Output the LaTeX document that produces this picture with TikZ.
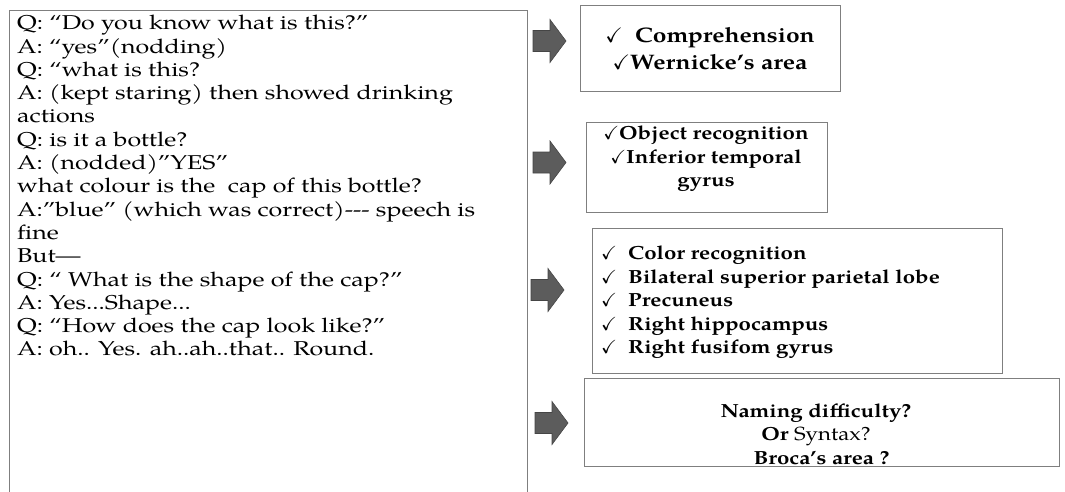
\documentclass[tikz,border=0pt]{standalone}
\usepackage{fontspec}
\setmainfont{TeX Gyre Pagella}
\newfontfamily\talkfont[FakeStretch=1.25]{TeX Gyre Pagella}
\newfontfamily\tagfont[FakeStretch=1.17]{TeX Gyre Pagella}
\usepackage{amssymb}
\definecolor{boxline}{HTML}{7F7F7F}
\definecolor{arrowfill}{HTML}{5C5C5C}
\definecolor{arrowedge}{HTML}{454545}
\newcommand{\tick}{$\checkmark$}
\tikzset{
  panel/.style={draw=boxline, line width=1.3pt, rectangle, inner sep=0pt, anchor=north west},
  talk/.style={anchor=north west, align=left, inner sep=0pt, font=\talkfont\fontsize{20}{23.3}\selectfont},
  tag/.style={inner sep=0pt, align=center, font=\tagfont\bfseries\fontsize{19}{23.5}\selectfont},
  blockarrow/.pic={
    \filldraw[fill=arrowfill, draw=arrowedge, line width=0.6pt]
      (0,-10.5) -- (17,-10.5) -- (17,-21.5) -- (33,0) -- (17,21.5) -- (17,10.5) -- (0,10.5) -- cycle;
  }
}
\begin{document}
\begin{tikzpicture}[x=1pt, y=-1pt]
  \useasboundingbox (0,0) rectangle (1065,492);
  \clip (0,0) rectangle (1065,492);

  % dialogue panel, open at the bottom edge
  \node[panel, minimum width=518pt, minimum height=500pt] (talkbox) at (9,10) {};
  \node[talk] (dialogue) at (17,15) {%
    Q: “Do you know what is this?”\\
    A: “yes”(nodding)\\
    Q: “what is this?\\
    A: (kept staring) then showed drinking\\
    actions\\
    Q: is it a bottle?\\
    A: (nodded)”YES”\\
    what colour is the\ \ cap of this bottle?\\
    A:”blue” (which was correct)-{}-{}- speech is\\
    fine\\
    But—\\
    Q: “ What is the shape of the cap?”\\
    A: Yes...Shape...\\
    Q: “How does the cap look like?”\\
    A: oh.. Yes. ah..ah..that.. Round.};

  % findings boxes
  \node[panel, minimum width=260pt, minimum height=86pt] (b1) at (580,5) {};
  \node[panel, minimum width=241pt, minimum height=90pt] (b2) at (586,122) {};
  \node[panel, minimum width=410pt, minimum height=145pt] (b3) at (592,228) {};
  \node[panel, minimum width=475pt, minimum height=88pt] (b4) at (584,378) {};

  \node[tag, font=\tagfont\bfseries\fontsize{21}{27}\selectfont] (t1) at (710,48.5)
    {\tick\ \ Comprehension\\ \tick Wernicke’s area};
  \node[tag] (t2) at (706,159)
    {\tick Object recognition\\ \tick Inferior temporal\\ gyrus};
  \node[tag, align=left, anchor=west] (t3) at (601,302.5)
    {\makebox[27pt][l]{\tick}Color recognition\\
     \makebox[27pt][l]{\tick}Bilateral superior parietal lobe\\
     \makebox[27pt][l]{\tick}Precuneus\\
     \makebox[27pt][l]{\tick}Right hippocampus\\
     \makebox[27pt][l]{\tick}Right fusifom gyrus};
  \node[tag] (t4) at (816,434)
    {Naming difficulty?\\ Or {\mdseries Syntax?}\\ \ \ Broca’s area ?};

  % block arrows pointing at each box
  \pic at (533,41) {blockarrow};
  \pic at (533,162.5) {blockarrow};
  \pic at (531,290) {blockarrow};
  \pic at (535,423) {blockarrow};
\end{tikzpicture}
\end{document}
